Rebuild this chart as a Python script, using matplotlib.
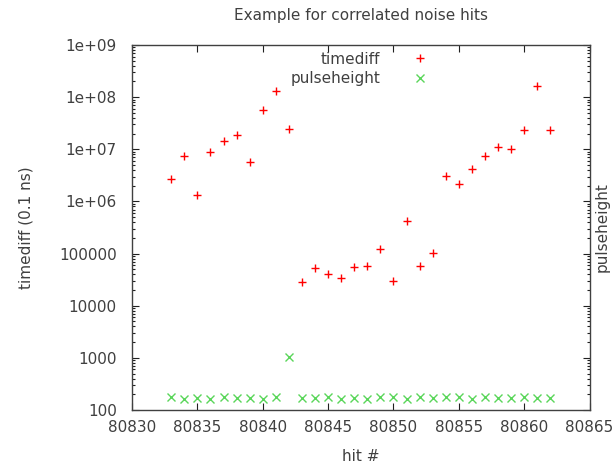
import numpy as np
import matplotlib.pyplot as plt

# hit numbers with their time difference to the previous hit and pulse height
hit = np.arange(80833, 80863)
timediff = [2.7e6, 7.4e6, 1.3e6, 8.8e6, 1.46e7, 1.87e7, 5.7e6, 5.65e7, 1.33e8, 2.47e7,
            2.86e4, 5.3e4, 4.1e4, 3.4e4, 5.6e4, 5.9e4, 1.23e5, 3.0e4, 4.3e5, 5.8e4,
            1.03e5, 3.1e6, 2.15e6, 4.17e6, 7.4e6, 1.12e7, 1.02e7, 2.3e7, 1.66e8, 2.37e7]
pulseheight = [178, 163, 172, 163, 178, 172, 172, 163, 180, 1025,
               172, 172, 180, 163, 172, 163, 180, 180, 163, 180,
               172, 180, 180, 163, 180, 172, 172, 180, 172, 172]

text_color = '#404040'
plt.rcParams['font.family'] = 'DejaVu Sans'
plt.rcParams['text.color'] = text_color

fig = plt.figure(figsize=(6.16, 4.66), dpi=100)
ax = fig.add_axes([0.2143, 0.1202, 0.7427, 0.7832])

ax.plot(hit, timediff, linestyle='none', marker='+', markersize=6,
        markeredgewidth=1.0, color='#ff0000', label='timediff')
ax.plot(hit, pulseheight, linestyle='none', marker='x', markersize=5.5,
        markeredgewidth=1.0, color='#5ad65a', label='pulseheight')

ax.set_yscale('log')
ax.set_ylim(100, 1e9)
ax.set_xlim(80830, 80865)
ax.set_xticks(np.arange(80830, 80866, 5))
ax.set_yticks([10.0 ** k for k in range(2, 10)])
ax.set_yticklabels(['100', '1000', '10000', '100000', '1e+06', '1e+07', '1e+08', '1e+09'])
ax.get_xaxis().get_major_formatter().set_useOffset(False)

ax.tick_params(which='both', direction='in', top=True, right=True,
               labelsize=11, labelcolor=text_color, color='#202020', width=0.8)
ax.tick_params(which='major', length=5)
ax.tick_params(axis='x', which='major', pad=7)
ax.tick_params(axis='y', which='major', pad=11)
ax.tick_params(which='minor', length=2.5)
ax.tick_params(axis='x', which='minor', bottom=False, top=False)
for spine in ax.spines.values():
    spine.set_color('#404040')
    spine.set_linewidth(1.0)

ax.set_title('Example for correlated noise hits', fontsize=11, pad=18, color=text_color)
ax.set_xlabel('hit #', fontsize=11, color=text_color, labelpad=10)
ax.set_ylabel('timediff (0.1 ns)', fontsize=11, color=text_color, labelpad=18)
ax.text(1.028, 0.5, 'pulseheight', transform=ax.transAxes, rotation=90,
        ha='center', va='center', fontsize=11, color=text_color)

ax.legend(loc='upper right', bbox_to_anchor=(0.67, 0.99), frameon=False,
          markerfirst=False, fontsize=11, handlelength=2.0, handletextpad=1.6,
          labelspacing=0.3, borderpad=0.2, borderaxespad=0.0)

fig.savefig('out.png', dpi=100)
